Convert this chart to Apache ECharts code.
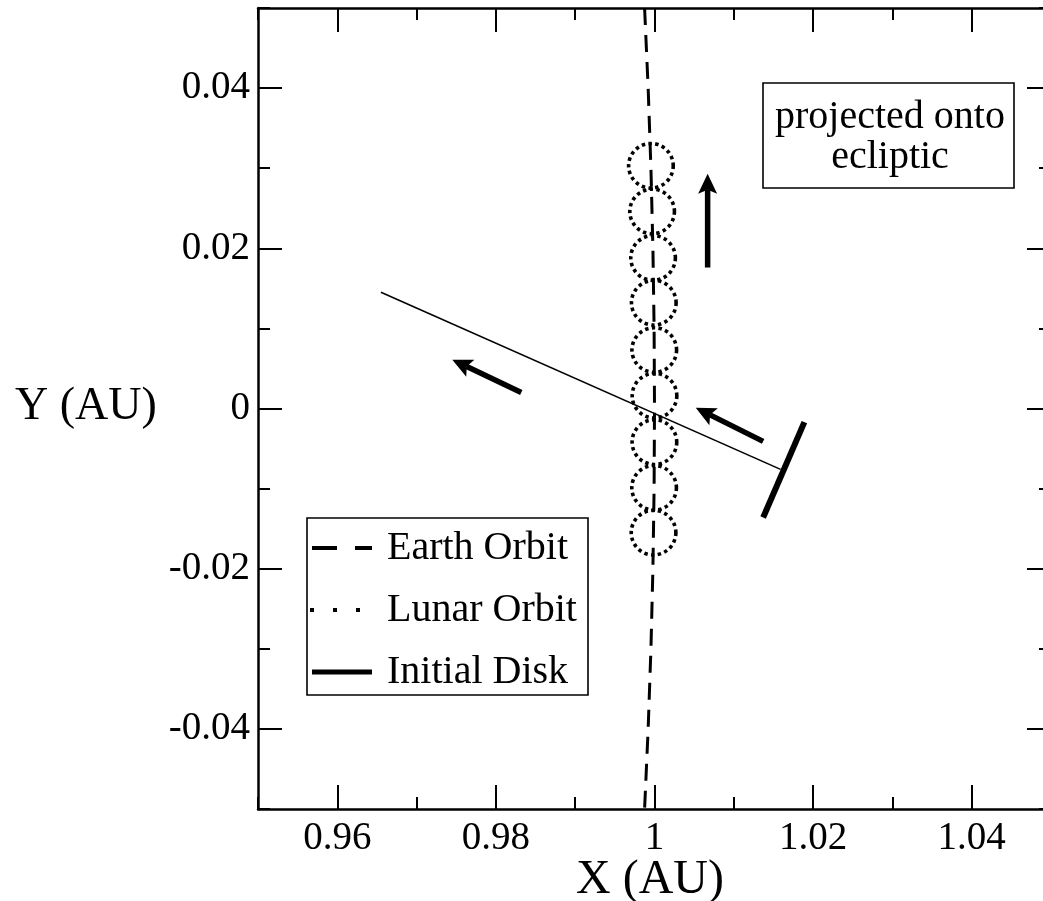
<!DOCTYPE html>
<html>
<head>
<meta charset="utf-8">
<script src="https://cdn.jsdelivr.net/npm/echarts@6/dist/echarts.min.js"></script>
<style>
  html, body { margin: 0; padding: 0; background: #fff; }
  #chart { width: 1043px; height: 901px; }
</style>
</head>
<body>
<div id="chart"></div>
<script>
// Tick labels (AU)
const xTickLabels = [0.96, 0.98, 1.0, 1.02, 1.04];
const yTickLabels = [-0.04, -0.02, 0, 0.02, 0.04];

// Earth's orbit near 1 AU, [x, y]
const earthOrbit = [
  [0.99875, 0.05], [0.9992, 0.04], [0.99955, 0.03], [0.9998, 0.02], [0.99995, 0.01],
  [1.0, 0.0],
  [0.99995, -0.01], [0.9998, -0.02], [0.99955, -0.03], [0.9992, -0.04], [0.99875, -0.05]
];

// Lunar orbit snapshots: [centre x, centre y, radius]
const lunarOrbits = [
  [0.99955, 0.0303, 0.0028],
  [0.9997, 0.0246, 0.0028],
  [0.99982, 0.0188, 0.0028],
  [0.99991, 0.0132, 0.0028],
  [0.99997, 0.0073, 0.0028],
  [1.0, 0.0016, 0.0028],
  [0.99999, -0.0042, 0.0028],
  [0.99995, -0.0099, 0.0028],
  [0.99988, -0.0155, 0.0028]
];

// Initial disk (edge-on) and the thin line through Earth
const initialDisk = [[1.0189, -0.0017], [1.0137, -0.0136]];
const sightLine = [[0.9655, 0.0145], [1.0159, -0.0076]];

// Motion arrows: [tail x, tail y, tip x, tip y]
const arrows = [
  [1.0067, 0.0176, 1.0067, 0.0293],
  [0.9832, 0.0020, 0.9745, 0.0061],
  [1.0137, -0.0041, 1.0052, 0.0001]
];

const FONT = '"Liberation Serif", "Times New Roman", serif';
const fmt = v => String(+(+v).toFixed(2));

function xAx(position, major) {
  return {
    type: 'value', position: position, offset: 0,
    min: 0.95, max: 1.05, interval: 0.01,
    axisLine: { show: !major, onZero: false, lineStyle: { color: '#000', width: 2.5 } },
    axisTick: major
      ? { show: true, inside: true, length: 24, customValues: xTickLabels, lineStyle: { color: '#000', width: 2 } }
      : { show: true, inside: true, length: 12, lineStyle: { color: '#000', width: 2 } },
    axisLabel: (major && position === 'bottom')
      ? { show: true, customValues: xTickLabels, formatter: fmt, color: '#000', fontSize: 39, fontFamily: FONT, margin: 10 }
      : { show: false },
    splitLine: { show: false }
  };
}
function yAx(position, major) {
  return {
    type: 'value', position: position, offset: 0,
    min: -0.05, max: 0.05, interval: 0.01,
    axisLine: { show: !major, onZero: false, lineStyle: { color: '#000', width: 2.5 } },
    axisTick: major
      ? { show: true, inside: true, length: 24, customValues: yTickLabels, lineStyle: { color: '#000', width: 2 } }
      : { show: true, inside: true, length: 12, lineStyle: { color: '#000', width: 2 } },
    axisLabel: (major && position === 'left')
      ? { show: true, customValues: yTickLabels, formatter: fmt, color: '#000', fontSize: 39, fontFamily: FONT, margin: 8 }
      : { show: false },
    splitLine: { show: false }
  };
}

const chart = echarts.init(document.getElementById('chart'), null, { renderer: 'canvas' });

chart.setOption({
  backgroundColor: '#fff',
  animation: false,
  grid: { left: 258, top: 8, width: 793, height: 801, containLabel: false, outerBoundsMode: 'none' },
  xAxis: [xAx('bottom', false), xAx('bottom', true), xAx('top', false), xAx('top', true)],
  yAxis: [yAx('left', false), yAx('left', true), yAx('right', false), yAx('right', true)],
  series: [
    {
      name: 'Earth Orbit', type: 'line', data: earthOrbit, showSymbol: false,
      xAxisIndex: 0, yAxisIndex: 0, clip: true,
      lineStyle: { color: '#000', width: 3, type: [17, 10] }
    },
    {
      name: 'Lunar Orbit', type: 'custom', data: lunarOrbits,
      xAxisIndex: 0, yAxisIndex: 0, clip: true,
      encode: { x: 0, y: 1 },
      renderItem: function (params, api) {
        const c = api.coord([api.value(0), api.value(1)]);
        const s = api.size([api.value(2), api.value(2)]);
        const r = (s[0] + s[1]) / 2;
        return {
          type: 'circle',
          shape: { cx: c[0], cy: c[1], r: r },
          style: { fill: null, stroke: '#000', lineWidth: 3.6, lineDash: [3.4, 3.4] }
        };
      }
    },
    {
      name: 'Initial Disk', type: 'line', data: initialDisk, showSymbol: false,
      xAxisIndex: 0, yAxisIndex: 0,
      lineStyle: { color: '#000', width: 6, cap: 'butt' }
    },
    {
      name: 'line', type: 'line', data: sightLine, showSymbol: false,
      xAxisIndex: 0, yAxisIndex: 0,
      lineStyle: { color: '#000', width: 1.6 }
    },
    {
      name: 'arrows', type: 'custom', data: arrows,
      xAxisIndex: 0, yAxisIndex: 0,
      encode: { x: [0, 2], y: [1, 3] },
      renderItem: function (params, api) {
        const a = api.coord([api.value(0), api.value(1)]);
        const b = api.coord([api.value(2), api.value(3)]);
        const dx = b[0] - a[0], dy = b[1] - a[1];
        const len = Math.sqrt(dx * dx + dy * dy);
        const ux = dx / len, uy = dy / len;
        const headLen = 20, headHalf = 9.5;
        const base = [b[0] - ux * headLen, b[1] - uy * headLen];
        const notch = [b[0] - ux * (headLen - 4), b[1] - uy * (headLen - 4)];
        return {
          type: 'group',
          children: [
            {
              type: 'line',
              shape: { x1: a[0], y1: a[1], x2: notch[0], y2: notch[1] },
              style: { stroke: '#000', lineWidth: 5.5, lineCap: 'butt' }
            },
            {
              type: 'polygon',
              shape: { points: [
                b,
                [base[0] - uy * headHalf, base[1] + ux * headHalf],
                notch,
                [base[0] + uy * headHalf, base[1] - ux * headHalf]
              ] },
              style: { fill: '#000', stroke: null }
            }
          ]
        };
      }
    }
  ],
  graphic: [
    // axis titles
    { type: 'text', left: 15, top: 384, style: { text: 'Y (AU)', font: '46px ' + FONT, fill: '#000' } },
    { type: 'text', x: 650, y: 880, style: { text: 'X (AU)', font: '48px ' + FONT, fill: '#000', align: 'center', verticalAlign: 'middle' } },
    // annotation box
    { type: 'rect', shape: { x: 763, y: 83, width: 251, height: 105 }, style: { fill: '#fff', stroke: '#000', lineWidth: 1.6 } },
    { type: 'text', x: 890, y: 137, style: { text: 'projected onto\necliptic', font: '40px ' + FONT, lineHeight: 40, fill: '#000', align: 'center', verticalAlign: 'middle' } },
    // legend
    { type: 'rect', shape: { x: 307, y: 518, width: 281, height: 177 }, style: { fill: '#fff', stroke: '#000', lineWidth: 1.6 } },
    { type: 'line', shape: { x1: 312, y1: 548, x2: 372, y2: 548 }, style: { stroke: '#000', lineWidth: 4, lineDash: [25, 18] } },
    { type: 'text', x: 387, y: 548, style: { text: 'Earth Orbit', font: '40px ' + FONT, fill: '#000', verticalAlign: 'middle' } },
    { type: 'line', shape: { x1: 310, y1: 610, x2: 372, y2: 610 }, style: { stroke: '#000', lineWidth: 4, lineDash: [4, 19] } },
    { type: 'text', x: 387, y: 610, style: { text: 'Lunar Orbit', font: '40px ' + FONT, fill: '#000', verticalAlign: 'middle' } },
    { type: 'line', shape: { x1: 312, y1: 672, x2: 372, y2: 672 }, style: { stroke: '#000', lineWidth: 5 } },
    { type: 'text', x: 387, y: 672, style: { text: 'Initial Disk', font: '40px ' + FONT, fill: '#000', verticalAlign: 'middle' } }
  ]
});
</script>
</body>
</html>
